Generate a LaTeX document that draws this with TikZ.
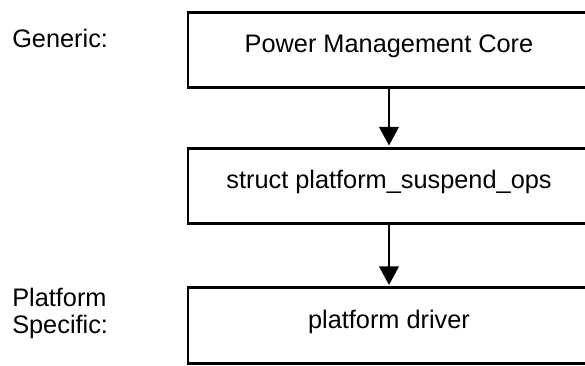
\documentclass[tikz,border=0pt]{standalone}
\usepackage{fontspec}
\setmainfont{Liberation Sans}
\usetikzlibrary{arrows.meta}

\begin{document}
\begin{tikzpicture}[x=0.75pt,y=0.75pt,yscale=-1,xscale=1,
  layerbox/.style={draw, line width=2.2pt, minimum width=301.5pt, minimum height=56.5pt,
    inner sep=0pt, text height=14pt, text depth=10pt, font=\fontsize{19}{20.25}\selectfont},
  sidelabel/.style={anchor=base west, inner sep=0pt, align=left, font=\fontsize{19}{20.25}\selectfont},
  callarrow/.style={line width=2.2pt, -{Triangle[length=14pt,width=14.5pt]}, shorten >=1pt}]
\useasboundingbox (0,0) rectangle (585,365);

%Shape: Rectangle [id:core]
\node [layerbox] (core) at (389,50) {Power Management Core};
%Shape: Rectangle [id:ops]
\node [layerbox] (ops) at (389,186) {struct platform\_suspend\_ops};
%Shape: Rectangle [id:driver]
\node [layerbox] (driver) at (389,325.5) {platform driver};

%Straight Lines [id:arrows]
\draw [callarrow] (core) -- (ops);
\draw [callarrow] (ops) -- (driver);

% Text Node
\node [sidelabel] (genlbl) at (12,47.5) {Generic:};
% Text Node
\node [sidelabel] (platlbl) at (12,333) {Platform\\Specific:};

\end{tikzpicture}
\end{document}
